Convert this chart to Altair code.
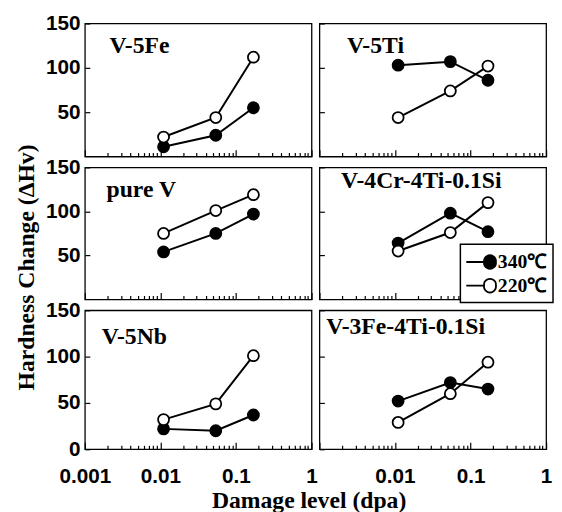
import altair as alt
import pandas as pd

# ---- data ----
panels = ["V-5Fe", "V-5Ti", "pure V", "V-4Cr-4Ti-0.1Si", "V-5Nb", "V-3Fe-4Ti-0.1Si"]
temps = ["340℃", "220℃"]
dose = [0.011, 0.054, 0.17]
hv_340 = [[11, 24, 55], [103, 107, 86], [54, 75, 97], [64, 98, 77], [22, 20, 37], [52, 72, 65]]
hv_220 = [[22, 44, 112], [44, 74, 102], [75, 101, 119], [55, 76, 110], [32, 49, 101], [29, 60, 94]]
x_ticks = [round(m * 10 ** e, 4) for e in (-3, -2, -1) for m in range(1, 10)] + [1]
decades_left = ["0.001", "0.01", "0.1", "1"]
decades_right = ["0.01", "0.1", "1"]
y_title = "Hardness Change (ΔHv)"
x_title = "Damage level (dpa)"

# ---- styling / layout ----
PANEL_W = 230
ROW_H = [135, 134, 141]
label_pos = {"V-5Fe": (25, 30), "V-5Ti": (28, 30), "pure V": (22, 30),
             "V-4Cr-4Ti-0.1Si": (22, 21), "V-5Nb": (17, 34), "V-3Fe-4Ti-0.1Si": (7, 24)}
SERIF = "Liberation Serif"
SANS = "Liberation Sans"

rows = []
for i, p in enumerate(panels):
    for t, series in ((temps[0], hv_340), (temps[1], hv_220)):
        for d, v in zip(dose, series[i]):
            rows.append({"panel": p, "temp": t, "dose": d, "hv": v})
df = pd.DataFrame(rows)

legend_symbol = "M-1.09,0L0.55,0M1.64,0A0.55,0.55,0,1,1,0.55,0A0.55,0.55,0,1,1,1.64,0Z"
legend = alt.Legend(title=None, orient="none", legendX=381, legendY=224,
                    symbolType=legend_symbol, symbolSize=484,
                    symbolStrokeColor="black", symbolStrokeWidth=1.8, symbolOpacity=1,
                    labelFont=SERIF, labelFontWeight="bold", labelFontSize=20,
                    labelColor="black", labelOffset=8,
                    strokeColor="black", fillColor="white", padding=6, rowPadding=1)

major_test = "indexof([0.001,0.01,0.1,1], datum.value) >= 0"


def x_axis(bottom, right, title):
    dec = decades_right if right else decades_left
    arr = "[" + ",".join("'" + d + "'" for d in dec) + "]"
    kw = dict(values=x_ticks, labels=bottom, labelFlush=False, labelOverlap=False,
              labelExpr="indexof(" + arr + ", datum.value + '') >= 0 ? datum.value + '' : ''",
              tickSize=alt.ExprRef(expr=major_test + " ? -7 : -4"),
              labelPadding=24, labelBaseline="top")
    if title:
        kw.update(title=x_title, titleX=227, titleY=59, titleAlign="center",
                  titleBaseline="alphabetic", titleAngle=0, titleAnchor="start")
    else:
        kw.update(title=None)
    return alt.Axis(**kw)


def y_axis(left, bottom, title):
    kw = dict(values=[0, 50, 100, 150] if bottom else [50, 100, 150], labels=left,
              tickSize=alt.ExprRef(expr="-5"),
              labelPadding=10, labelFlush=False, labelOverlap=False)
    if title:
        kw.update(title=y_title, titleX=-59, titleY=101, titleAngle=270,
                  titleAlign="center", titleBaseline="middle", titleAnchor="start")
    else:
        kw.update(title=None)
    return alt.Axis(**kw)


def panel(i):
    name = panels[i]
    r, c = divmod(i, 2)
    bottom = r == 2
    x = alt.X("dose:Q", scale=alt.Scale(type="log", domain=[0.001, 1]),
              axis=x_axis(bottom, c == 1, bottom and c == 0))
    y = alt.Y("hv:Q", scale=alt.Scale(domain=[0, 150]),
              axis=y_axis(c == 0, bottom, r == 1 and c == 0))
    base = alt.Chart(df).transform_filter(alt.datum.panel == name)
    lines = base.mark_line(color="black", strokeWidth=2).encode(x=x, y=y, detail="temp:N")
    pts = base.mark_point(shape="circle", filled=True, size=125, stroke="black",
                          strokeWidth=1.8, opacity=1).encode(
        x=x, y=y,
        fill=alt.Fill("temp:N", scale=alt.Scale(domain=temps, range=["black", "white"]),
                      legend=legend))
    lx, ly = label_pos[name]
    txt = alt.Chart(pd.DataFrame({"label": [name]})).mark_text(
        align="left", baseline="alphabetic", font=SERIF, fontWeight="bold",
        fontSize=24, color="black").encode(x=alt.value(lx), y=alt.value(ly), text="label:N")
    return alt.layer(lines, pts, txt).properties(width=PANEL_W, height=ROW_H[r])


chart = alt.concat(*[panel(i) for i in range(6)], columns=2,
                   spacing={"row": 11, "column": 8}, bounds="flush").properties(
    padding={"left": 6, "top": 0, "right": 0, "bottom": 0},
    background="white",
).configure_view(stroke="black", strokeWidth=1.3).configure_axis(
    domain=False, grid=False, ticks=True, tickColor="black", tickWidth=1.2,
    labelFont=SANS, labelFontWeight="bold", labelFontSize=21, labelColor="black",
    titleFont=SERIF, titleFontWeight="bold", titleFontSize=24, titleColor="black",
).configure_legend(strokeWidth=1.5)

chart.save("out.html", embed_options={"renderer": "svg", "actions": False})
